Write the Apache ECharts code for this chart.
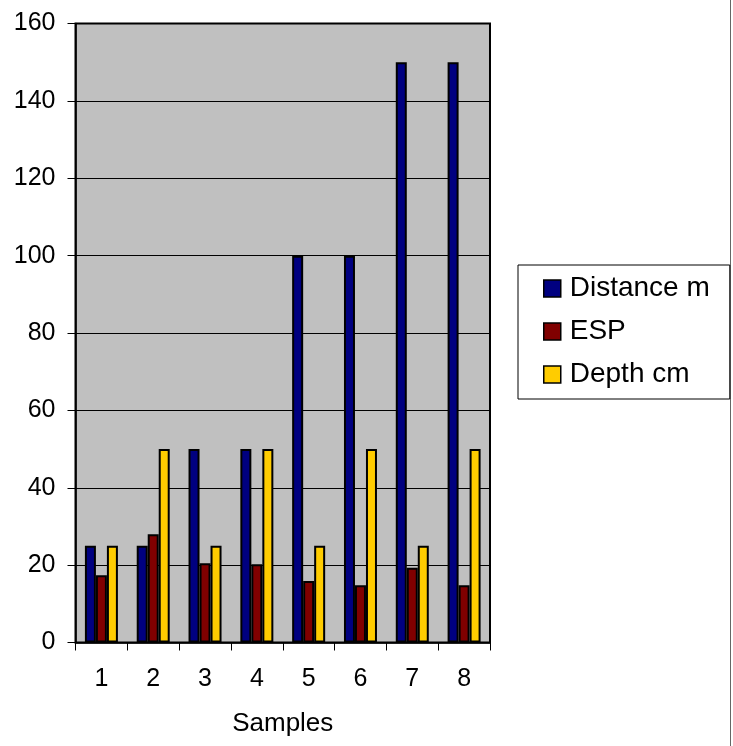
<!DOCTYPE html>
<html>
<head>
<meta charset="utf-8">
<script src="https://cdn.jsdelivr.net/npm/echarts@6/dist/echarts.min.js"></script>
<style>html,body{margin:0;padding:0;background:#fff;}#c{width:733px;height:746px;}</style>
</head>
<body>
<div id="c"></div>
<script>
const categories = ['1', '2', '3', '4', '5', '6', '7', '8'];
const distance = [25, 25, 50, 50, 100, 100, 150, 150];
const esp = [17.4, 28.0, 20.5, 20.2, 15.9, 14.8, 19.3, 14.8];
const depth = [25, 50, 25, 50, 25, 50, 25, 50];
const yTicks = { min: 0, max: 160, interval: 20 };
const seriesNames = ['Distance m', 'ESP', 'Depth cm'];

const FONT = '"Liberation Sans", Arial, sans-serif';
const chart = echarts.init(document.getElementById('c'), null, { renderer: 'canvas' });

function bar(name, data, color) {
  return {
    name: name, type: 'bar', data: data,
    barWidth: 11, barGap: '0%',
    itemStyle: { color: color, borderColor: '#000', borderWidth: 2 },
    emphasis: { disabled: true }
  };
}

chart.setOption({
  animation: false,
  backgroundColor: '#fff',
  textStyle: { fontFamily: FONT },
  grid: {
    left: 75.5, right: 243, top: 23.5, bottom: 103.5,
    show: true, backgroundColor: '#c0c0c0', borderColor: '#000', borderWidth: 2
  },
  legend: {
    orient: 'vertical', left: 518, top: 265,
    padding: [8, 20, 9, 25], itemGap: 12,
    itemWidth: 17, itemHeight: 17,
    borderColor: '#000', borderWidth: 1, backgroundColor: '#fff',
    textStyle: { fontFamily: FONT, fontSize: 28, color: '#000', lineHeight: 31, padding: [0, 0, 0, 4] },
    data: seriesNames.map(n => ({ name: n, icon: 'rect' })),
    itemStyle: { borderColor: '#000', borderWidth: 1.5 },
    selectedMode: false
  },
  xAxis: {
    type: 'category', data: categories,
    name: 'Samples', nameLocation: 'middle', nameGap: 68,
    nameTextStyle: { fontFamily: FONT, fontSize: 26, color: '#000' },
    axisLine: { lineStyle: { color: '#000', width: 1.5 } },
    axisTick: { show: true, inside: false, length: 8, lineStyle: { color: '#000', width: 1 } },
    axisLabel: { fontFamily: FONT, fontSize: 25, color: '#000', margin: 24 },
    splitLine: { show: false }
  },
  yAxis: {
    type: 'value', min: yTicks.min, max: yTicks.max, interval: yTicks.interval,
    axisLine: { show: true, lineStyle: { color: '#000', width: 1.5 } },
    axisTick: { show: true, inside: false, length: 8, lineStyle: { color: '#000', width: 1 } },
    axisLabel: { fontFamily: FONT, fontSize: 25, color: '#000', margin: 20 },
    splitLine: { show: true, lineStyle: { color: '#000', width: 1 } }
  },
  series: [
    bar(seriesNames[0], distance, '#000080'),
    bar(seriesNames[1], esp, '#800000'),
    bar(seriesNames[2], depth, '#ffcc00')
  ],
  graphic: [{
    type: 'line', silent: true,
    shape: { x1: 730.5, y1: 0, x2: 730.5, y2: 746 },
    style: { stroke: '#666', lineWidth: 1 }
  }]
});
</script>
</body>
</html>
